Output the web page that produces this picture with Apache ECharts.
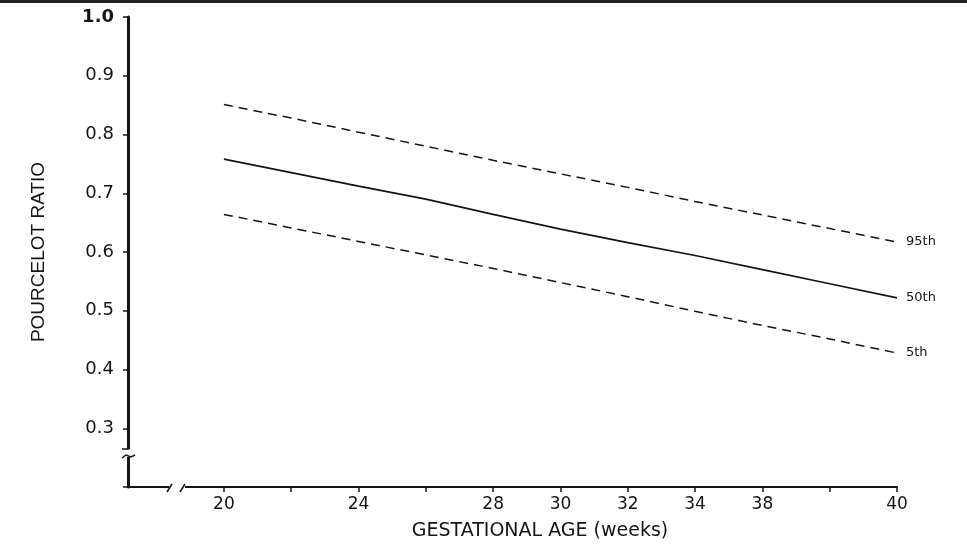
<!DOCTYPE html>
<html>
<head>
<meta charset="utf-8">
<script src="https://cdn.jsdelivr.net/npm/echarts@6/dist/echarts.min.js"></script>
<style>
  html, body { margin: 0; padding: 0; background: #fff; }
  #chart { width: 967px; height: 549px; }
</style>
</head>
<body>
<div id="chart"></div>
<script>
// gestational age (weeks) at each tick
const weeks = [20, 22, 24, 26, 28, 30, 32, 34, 36, 38, 40];
// labels as printed under the ticks ('' = unlabelled tick)
const xTickLabels = ['20', '', '24', '', '28', '30', '32', '34', '38', '', '40'];

// pourcelot ratio centiles
const p95 = [0.851, 0.828, 0.804, 0.780, 0.756, 0.733, 0.710, 0.686, 0.663, 0.640, 0.617];
const p50 = [0.758, 0.735, 0.712, 0.690, 0.664, 0.639, 0.616, 0.594, 0.570, 0.546, 0.522];
const p5  = [0.664, 0.641, 0.618, 0.595, 0.572, 0.548, 0.524, 0.499, 0.475, 0.452, 0.428];

const ink = '#151515';
const font = 'DejaVu Sans';

const pairs = (ys) => weeks.map((w, i) => [w, ys[i]]);

const lineSeries = (name, ys, dashed) => ({
    name: name,
    type: 'line',
    data: pairs(ys),
    symbol: 'none',
    silent: true,
    lineStyle: {
        color: ink,
        width: dashed ? 1.5 : 1.7,
        type: dashed ? [9, 6] : 'solid'
    },
    endLabel: {
        show: true,
        formatter: name,
        color: ink,
        fontFamily: font,
        fontSize: 13,
        distance: 9
    }
});

const chart = echarts.init(document.getElementById('chart'));

chart.setOption({
    backgroundColor: '#fff',
    animation: false,
    grid: { left: 128, right: 70, top: 17, bottom: 62 },
    xAxis: {
        type: 'value',
        min: 17.15,
        max: 40,
        name: 'GESTATIONAL AGE (weeks)',
        nameLocation: 'middle',
        nameGap: 35,
        nameTextStyle: { color: ink, fontFamily: font, fontSize: 19, padding: [0, 0, 0, 55] },
        splitLine: { show: false },
        axisLine: { show: true, lineStyle: { color: ink, width: 2 } },
        axisTick: {
            show: true,
            customValues: weeks,
            length: 5,
            inside: false,
            lineStyle: { color: ink, width: 1.5 }
        },
        axisLabel: {
            customValues: weeks.filter((w, i) => xTickLabels[i] !== ''),
            formatter: (v) => xTickLabels[weeks.indexOf(v)],
            color: ink,
            fontFamily: font,
            fontSize: 17,
            margin: 9
        }
    },
    yAxis: {
        type: 'value',
        min: 0.2,
        max: 1.0,
        interval: 0.1,
        name: 'POURCELOT RATIO',
        nameLocation: 'middle',
        nameGap: 80,
        nameRotate: 90,
        nameTextStyle: { color: ink, fontFamily: 'Liberation Sans', fontSize: 19 },
        splitLine: { show: false },
        axisLine: { show: true, lineStyle: { color: ink, width: 3 } },
        axisTick: { show: true, length: 5, lineStyle: { color: ink, width: 1.5 } },
        axisLabel: {
            color: ink,
            fontFamily: font,
            fontSize: 18,
            margin: 14,
            formatter: (v) => (Math.abs(v - 0.2) < 1e-6 ? '' : Math.abs(v - 1) < 1e-6 ? '{top|1.0}' : v.toFixed(1)),
            rich: { top: { fontFamily: font, fontSize: 18, fontWeight: 'bold', color: ink } }
        }
    },
    series: [
        lineSeries('95th', p95, true),
        lineSeries('50th', p50, false),
        lineSeries('5th', p5, true)
    ],
    graphic: [
        // scan edge at the top
        { type: 'rect', shape: { x: 0, y: 0, width: 967, height: 3 }, style: { fill: '#222' }, z: 100 },
        // y-axis break
        { type: 'rect', shape: { x: 124, y: 449, width: 9, height: 8 }, style: { fill: '#fff' }, z: 100 },
        { type: 'polyline', shape: { points: [[122, 458], [126, 455], [131, 457], [135, 455]] },
          style: { stroke: ink, lineWidth: 1.5, fill: null }, z: 101 },
        { type: 'line', shape: { x1: 122, y1: 449, x2: 129, y2: 449 }, style: { stroke: ink, lineWidth: 1.5 }, z: 101 },
        // x-axis break
        { type: 'rect', shape: { x: 169, y: 483, width: 16, height: 8 }, style: { fill: '#fff' }, z: 100 },
        { type: 'line', shape: { x1: 167, y1: 492, x2: 172, y2: 484 }, style: { stroke: ink, lineWidth: 1.5 }, z: 101 },
        { type: 'line', shape: { x1: 180, y1: 492, x2: 185, y2: 484 }, style: { stroke: ink, lineWidth: 1.5 }, z: 101 }
    ]
});
</script>
</body>
</html>
